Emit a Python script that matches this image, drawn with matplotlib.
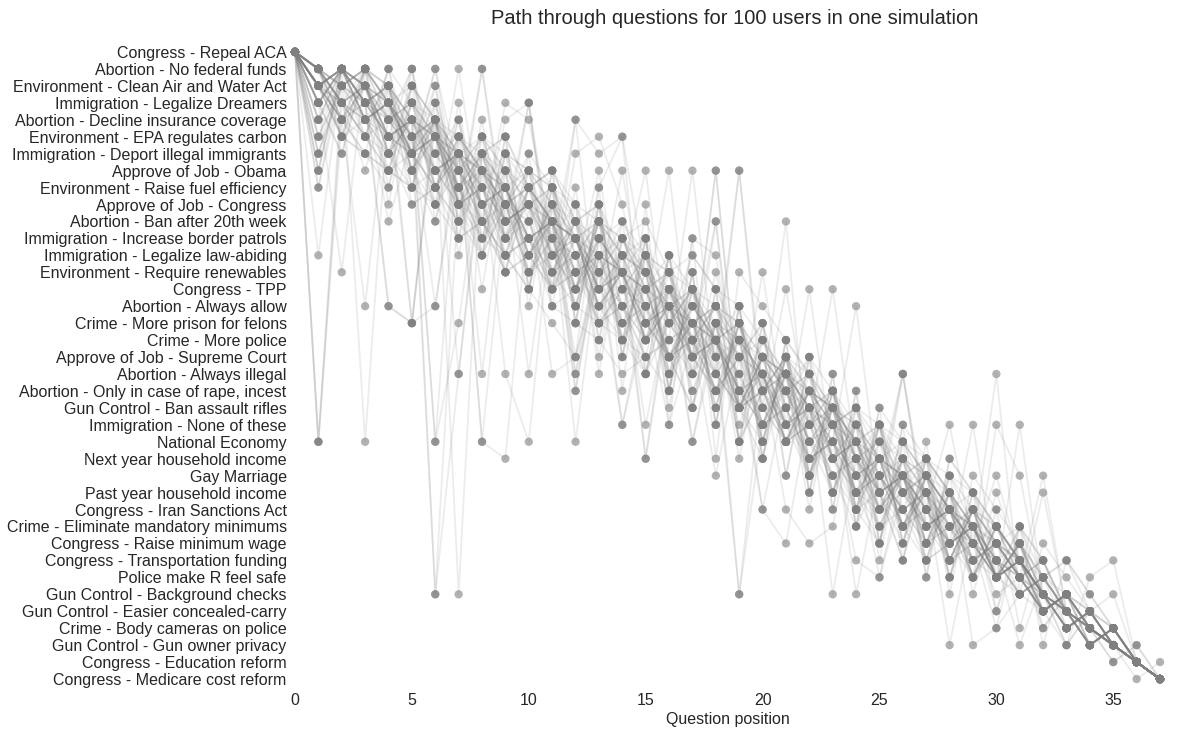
import matplotlib
matplotlib.use('Agg')
import matplotlib.pyplot as plt
import numpy as np

questions = [
    'Congress - Repeal ACA', 'Abortion - No federal funds',
    'Environment - Clean Air and Water Act', 'Immigration - Legalize Dreamers',
    'Abortion - Decline insurance coverage', 'Environment - EPA regulates carbon',
    'Immigration - Deport illegal immigrants', 'Approve of Job - Obama',
    'Environment - Raise fuel efficiency', 'Approve of Job - Congress',
    'Abortion - Ban after 20th week', 'Immigration - Increase border patrols',
    'Immigration - Legalize law-abiding', 'Environment - Require renewables',
    'Congress - TPP', 'Abortion - Always allow', 'Crime - More prison for felons',
    'Crime - More police', 'Approve of Job - Supreme Court', 'Abortion - Always illegal',
    'Abortion - Only in case of rape, incest', 'Gun Control - Ban assault rifles',
    'Immigration - None of these', 'National Economy', 'Next year household income',
    'Gay Marriage', 'Past year household income', 'Congress - Iran Sanctions Act',
    'Crime - Eliminate mandatory minimums', 'Congress - Raise minimum wage',
    'Congress - Transportation funding', 'Police make R feel safe',
    'Gun Control - Background checks', 'Gun Control - Easier concealed-carry',
    'Crime - Body cameras on police', 'Gun Control - Gun owner privacy',
    'Congress - Education reform', 'Congress - Medicare cost reform',
]

# question index asked at each position, one list per user path
paths = [
    [0,23,4,1,2,6,3,8,5,7,9,13,10,11,15,12,16,14,19,17,18,22,20,21,26,29,24,25,27,31,28,30,33,32,34,35,36,37],
    [0,23,3,1,6,2,4,7,5,9,8,11,14,10,12,13,15,16,19,17,22,18,20,21,24,27,25,26,29,28,31,30,32,34,33,35,37,36],
    [0,23,2,5,1,3,6,4,11,8,7,9,14,10,12,13,15,17,21,16,18,19,22,20,25,24,28,26,30,27,29,31,33,32,35,34,36,37],
    [0,2,1,3,15,16,4,6,5,9,7,8,12,10,11,14,13,18,20,17,19,22,24,21,23,27,25,30,26,28,31,29,32,33,35,34,36,37],
    [0,1,4,15,2,16,3,7,5,6,10,8,9,13,11,14,12,17,20,18,23,19,21,22,26,24,28,25,30,27,31,29,34,32,33,35,36,37],
    [0,2,1,4,3,16,15,5,8,6,7,11,9,10,14,12,13,20,17,18,22,19,24,21,23,28,25,27,26,29,30,32,31,33,34,35,36,37],
    [0,1,3,2,5,4,23,16,6,9,7,8,12,10,11,15,13,14,18,21,17,19,22,20,24,28,25,26,30,27,31,29,32,34,33,35,36,37],
    [0,3,1,2,5,4,32,8,11,6,7,9,13,10,12,15,14,17,20,16,18,19,21,26,23,22,24,29,25,27,28,31,30,33,35,34,36,37],
    [0,2,1,4,3,5,32,19,7,9,6,8,11,13,10,12,14,17,15,16,20,18,22,21,24,23,26,25,29,27,31,28,30,33,35,34,36,37],
    [0,3,1,5,2,7,4,8,6,10,9,13,11,12,16,14,15,18,17,32,22,19,20,24,21,26,23,25,28,27,30,29,31,33,34,35,36,37],
    [0,1,4,2,3,6,5,7,9,13,8,10,11,14,12,15,17,16,18,32,19,23,20,21,25,22,26,24,29,27,28,31,30,34,33,35,36,37],
    [0,7,1,3,2,5,4,6,12,9,8,10,15,11,13,14,18,21,16,17,19,23,20,22,32,25,27,24,26,29,31,28,30,33,35,34,36,37],
    [0,3,1,2,6,4,5,8,10,9,13,11,12,16,14,15,19,17,18,7,21,20,23,26,22,24,25,27,29,28,30,32,31,34,33,35,36,37],
    [0,4,1,3,2,5,6,8,12,9,10,14,11,15,13,7,18,16,20,17,22,19,23,21,24,26,30,25,27,28,31,29,32,33,34,35,36,37],
    [0,2,5,1,3,6,4,9,8,12,11,14,13,16,15,18,17,7,19,21,20,10,25,22,23,27,24,29,26,28,30,31,33,32,34,35,36,37],
    [0,1,4,2,3,6,5,9,8,12,11,14,13,7,16,15,18,17,10,23,20,19,21,26,22,24,25,28,27,29,31,30,33,32,34,35,36,37],
    [0,6,2,1,4,3,5,10,8,9,13,11,12,16,14,15,7,19,17,21,18,23,20,24,22,25,28,26,31,27,29,30,32,33,34,36,35,37],
    [0,3,1,2,6,4,5,8,11,9,10,14,12,13,17,15,16,18,7,21,24,19,20,22,26,23,25,27,30,28,29,31,32,34,33,35,36,37],
    [0,6,1,2,3,5,4,9,8,11,10,13,12,14,7,16,15,18,17,21,20,23,22,24,26,25,19,27,29,28,31,30,33,32,35,34,36,37],
    [0,2,4,1,3,6,8,5,7,19,23,9,11,10,14,12,13,17,15,18,16,21,20,24,22,26,25,29,27,31,28,30,34,32,33,35,36,37],
    [0,1,4,2,7,3,5,6,23,24,9,8,19,11,10,13,16,12,14,15,17,20,18,22,21,27,25,30,26,28,31,29,33,32,34,35,36,37],
    [0,12,1,23,3,2,4,19,6,5,8,7,10,9,13,11,15,14,17,16,20,18,22,21,26,24,28,25,30,27,31,29,32,33,35,34,36,37],
    [0,3,13,1,2,4,23,5,14,6,8,7,10,9,12,11,19,16,15,17,22,18,20,21,27,24,25,29,26,31,28,30,32,34,33,35,36,37],
    [0,2,1,3,10,5,4,7,6,8,19,9,20,11,13,17,12,14,15,18,16,21,25,22,23,27,24,28,26,30,29,31,33,32,34,35,36,37],
    [0,1,3,2,5,4,8,6,7,10,9,19,18,13,11,12,16,14,17,15,21,23,20,22,25,27,24,26,29,28,31,30,32,33,34,35,36,37],
    [0,2,1,4,3,7,5,6,9,8,11,10,23,12,13,24,15,14,17,16,20,18,19,22,21,26,25,29,27,31,28,30,32,35,33,34,36,37],
    [0,3,6,1,2,4,8,5,7,9,11,10,19,13,12,24,14,17,15,16,20,18,23,21,22,25,27,26,28,31,29,30,32,33,34,36,35,37],
    [0,7,1,3,2,4,6,5,9,8,11,10,13,12,22,16,14,18,15,20,17,21,19,24,23,26,29,25,27,28,30,32,31,33,35,34,36,37],
    [0,2,1,4,7,3,5,6,8,10,9,12,11,13,22,15,14,23,17,16,19,21,18,20,24,26,30,25,27,28,31,29,33,32,34,35,36,37],
    [0,6,2,1,3,5,4,10,7,8,12,9,14,11,13,22,15,23,16,18,17,20,19,21,28,25,24,26,31,27,29,30,32,34,33,35,36,37],
    [0,1,5,2,3,7,4,8,6,11,9,10,13,12,15,14,17,16,18,20,22,21,24,23,26,25,28,27,30,29,19,32,31,33,35,34,36,37],
    [0,2,3,5,4,1,7,9,6,8,11,13,10,12,16,19,14,15,17,21,18,20,24,23,26,25,28,27,22,29,31,30,32,34,33,35,36,37],
    [0,2,4,3,5,1,8,6,10,7,12,9,13,11,17,14,15,19,16,21,18,20,23,24,27,26,28,30,29,31,22,25,32,33,34,35,36,37],
    [0,2,4,3,5,6,1,7,9,13,8,10,11,14,12,17,15,20,16,18,21,19,24,23,25,28,27,30,29,22,31,32,26,33,35,34,36,37],
    [0,5,2,1,3,8,4,6,7,9,12,10,11,15,13,14,18,16,17,20,22,21,24,23,26,27,19,28,30,29,32,31,25,33,34,35,36,37],
    [0,4,1,2,6,3,8,5,7,9,13,10,11,15,12,16,14,18,17,20,19,22,21,24,23,25,27,29,28,31,26,30,32,34,33,35,36,37],
    [0,4,1,3,2,7,10,5,6,8,12,9,11,14,13,16,15,18,17,21,19,20,23,25,24,27,26,29,28,30,31,22,32,33,34,35,36,37],
    [0,5,2,1,4,3,7,6,9,12,8,10,11,13,15,17,14,16,19,21,18,20,23,22,25,24,27,26,35,28,33,29,31,30,32,34,36,37],
    [0,1,3,4,2,7,5,9,6,11,8,12,10,14,13,16,15,18,17,19,27,29,21,20,23,22,25,24,26,35,34,28,31,30,33,32,36,37],
    [0,4,2,1,3,5,9,6,7,11,8,12,10,13,15,19,14,16,17,20,18,22,21,23,30,31,25,24,27,26,29,28,32,35,33,34,36,37],
    [0,1,3,4,6,2,5,9,12,7,8,10,14,11,13,17,15,19,16,21,18,22,20,24,23,26,25,28,27,29,34,32,33,35,31,30,36,37],
    [0,1,3,7,2,4,5,8,6,10,9,12,11,14,13,16,15,17,25,18,27,20,19,22,21,24,23,26,28,29,30,35,31,32,33,34,36,37],
    [0,2,5,4,6,8,7,9,1,10,3,12,14,11,13,16,18,15,17,20,19,22,25,21,23,24,26,28,27,30,29,31,33,32,34,35,36,37],
    [0,2,5,6,7,8,9,1,10,4,3,14,11,12,16,13,18,15,17,19,22,20,25,21,23,24,28,26,27,31,29,30,32,33,35,34,36,37],
    [0,7,1,3,2,9,8,11,10,13,12,14,4,6,5,19,16,15,17,22,18,20,21,23,27,24,25,29,26,30,28,31,33,32,34,35,36,37],
    [0,2,1,4,3,6,9,7,10,12,11,15,14,8,5,13,18,21,16,17,19,23,20,22,26,24,28,25,30,27,31,29,32,34,33,35,36,37],
    [0,8,1,3,2,7,4,11,10,13,12,14,6,5,9,16,18,15,17,20,22,19,21,25,28,23,24,26,30,27,29,32,31,33,35,34,36,37],
    [0,1,5,6,7,8,2,9,10,3,4,11,15,12,13,17,14,18,16,23,20,19,21,26,22,24,25,27,29,28,31,30,32,33,34,35,36,37],
    [0,2,1,3,15,16,4,32,6,5,8,7,9,19,11,10,13,12,14,17,23,18,21,20,24,22,26,25,28,27,29,31,30,33,34,35,36,37],
    [0,2,4,5,6,9,8,10,1,11,3,13,12,15,14,17,16,18,7,21,20,23,22,25,24,26,19,28,27,29,31,30,32,34,33,35,36,37],
    [0,1,3,5,7,6,2,9,8,11,13,12,4,16,15,18,17,19,10,21,20,23,22,14,24,26,25,28,27,29,31,30,33,32,34,35,36,37],
    [0,3,1,2,5,4,7,6,23,9,8,10,18,12,11,14,13,16,15,17,19,22,20,21,24,25,27,26,29,28,30,31,33,32,34,35,36,37],
    [0,5,1,2,4,3,8,6,7,10,9,12,11,14,13,15,22,17,16,18,20,19,21,32,24,23,26,25,27,29,28,30,31,33,34,35,36,37],
    [0,2,3,4,5,6,1,9,7,8,12,10,11,15,13,14,18,16,17,20,19,27,29,28,21,22,23,24,25,26,30,31,33,32,34,35,36,37],
    [0,8,2,1,3,6,4,5,7,11,9,10,14,12,13,17,15,16,20,18,19,23,21,22,24,31,26,27,28,29,25,30,32,33,34,35,36,37],
    [0,1,2,3,5,6,4,9,11,12,8,13,10,14,16,15,18,17,19,7,20,22,21,24,23,26,25,27,29,28,30,31,33,32,34,35,36,37],
    [0,1,2,4,3,5,15,6,19,7,9,8,11,10,13,12,16,14,18,17,20,22,21,23,25,24,26,28,27,29,30,32,31,33,35,34,36,37],
    [0,3,1,2,4,6,5,8,7,9,11,10,20,12,17,13,14,16,15,21,18,19,23,22,24,27,25,26,28,30,29,31,32,33,34,35,36,37],
    [0,2,1,3,4,5,7,6,8,10,9,11,15,16,17,18,12,19,13,20,21,14,22,23,25,24,26,28,27,29,31,30,32,34,33,35,36,37],
    [0,1,3,2,5,4,6,8,7,10,9,15,16,17,19,18,20,11,12,21,13,22,14,24,23,25,27,26,28,30,29,31,33,32,35,34,36,37],
    [0,2,1,4,3,6,5,7,9,8,11,10,13,12,14,16,18,17,20,19,22,21,24,23,15,26,25,27,29,28,31,30,32,34,33,35,36,37],
    [0,2,4,6,8,1,10,3,12,5,14,7,16,9,18,11,20,13,22,15,24,17,26,19,28,21,23,25,27,30,29,31,33,32,34,35,36,37],
    [0,1,3,5,7,2,9,4,11,6,13,8,15,10,17,12,19,14,21,16,23,18,25,20,27,22,29,24,31,26,28,30,33,32,34,35,36,37],
    [0,1,2,3,4,6,8,10,12,5,14,7,16,9,18,11,20,13,22,15,24,17,19,26,21,23,28,25,27,30,29,31,32,33,35,34,36,37],
    [0,1,2,3,5,7,9,11,4,13,6,15,8,17,10,19,12,21,14,23,16,25,18,27,20,29,22,24,26,28,31,30,33,32,34,35,36,37],
    [0,2,1,4,3,6,5,7,10,12,14,8,16,9,18,11,20,13,22,15,24,17,26,19,28,21,30,23,32,25,27,29,31,33,34,35,36,37],
    [0,3,1,2,5,4,7,6,9,8,11,13,15,10,17,12,19,14,21,16,23,18,25,20,27,22,29,24,26,31,28,30,32,34,33,35,36,37],
    [0,3,6,1,9,2,4,12,5,7,15,8,10,18,11,13,21,14,16,24,17,19,27,20,22,30,23,25,26,28,29,31,33,32,34,35,36,37],
    [0,2,3,5,1,6,8,4,9,11,7,12,14,10,15,17,13,18,20,16,21,23,19,24,26,22,27,29,25,28,30,32,31,33,35,34,36,37],
    [0,1,3,2,4,6,5,7,10,12,14,16,18,8,20,9,22,11,24,13,15,17,19,21,23,26,25,28,27,29,31,30,32,33,34,35,36,37],
    [0,2,4,6,1,8,3,10,5,12,7,14,9,16,11,13,15,17,19,21,23,18,25,20,27,22,29,24,31,26,28,30,33,32,35,34,36,37],
    [0,1,2,4,3,5,7,6,8,10,9,11,13,15,17,19,12,21,14,23,16,25,18,27,20,29,22,31,24,26,28,30,32,34,33,35,36,37],
    [0,2,5,1,8,3,4,11,6,7,14,9,10,17,12,13,20,15,16,23,18,19,26,21,22,29,24,25,27,28,31,30,32,33,35,34,36,37],
    [0,1,3,2,6,4,5,9,7,8,12,10,11,15,13,14,18,16,17,21,19,20,22,25,27,29,23,31,24,26,33,28,35,30,32,34,36,37],
    [0,2,1,3,5,4,7,6,9,8,11,10,14,12,13,17,15,16,20,18,19,23,21,22,26,28,24,30,25,32,27,34,29,31,33,35,36,37],
]

plt.rcParams['font.family'] = ['Liberation Sans', 'DejaVu Sans']

fig = plt.figure(figsize=(11.9, 7.31), dpi=100)
ax = fig.add_axes([0.2479, 0.0711, 0.7269, 0.8578])

positions = np.arange(len(questions))
for p in paths:
    ax.plot(positions, p, color='gray', alpha=0.15, lw=1.3, clip_on=False, zorder=1)
for p in paths:
    ax.scatter(positions, p, s=36, color='gray', alpha=0.6, edgecolors='none',
               clip_on=False, zorder=3)

ax.set_xlim(0, len(questions) - 1)
ax.set_ylim(len(questions) - 1, 0)
ax.set_yticks(positions)
ax.set_yticklabels(questions)
ax.set_xticks(range(0, 36, 5))
ax.tick_params(length=0, labelsize=11.5, colors='#262626')
ax.tick_params(axis='y', pad=6)
ax.tick_params(axis='x', pad=10)
for s in ax.spines.values():
    s.set_visible(False)

ax.set_title('Path through questions for 100 users in one simulation',
             fontsize=14.5, color='#262626', pad=20, x=0.508)
ax.set_xlabel('Question position', fontsize=11.5, color='#262626', labelpad=3)

fig.savefig('out.png', dpi=100)
